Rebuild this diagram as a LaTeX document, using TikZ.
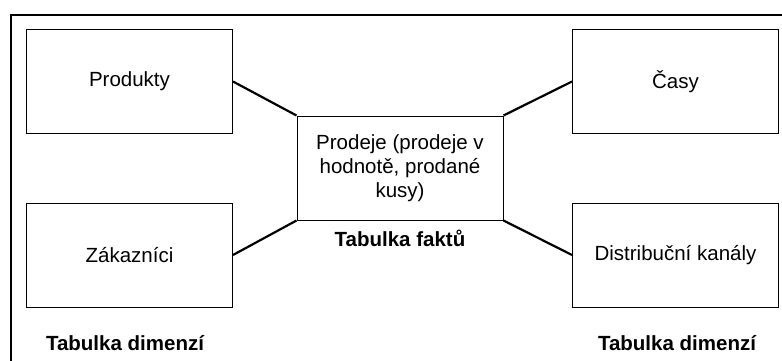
\documentclass[tikz,border=0pt]{standalone}
\usepackage{fontspec}
\setmainfont{Liberation Sans}
\usetikzlibrary{positioning}

\begin{document}
\begin{tikzpicture}[x=1pt,y=-1pt,
        font=\fontsize{20.5}{24}\selectfont,
        box/.style = {draw,line width=1pt,inner sep=0pt,align=center,
            minimum width=206pt,minimum height=104pt},
        link/.style = {line width=2.2pt},
        caption/.style = {font=\fontsize{20.5}{24}\selectfont\bfseries}]
    \useasboundingbox (0,0) rectangle (782,360);
    % outer frame, open at right and bottom
    \draw[line width=2pt] (11,362) -- (11,15) -- (784,15);
    % dimension tables
    \node[box] (prod) at (129.5,81.5) {Produkty};
    \node[box] (zak) at (129.5,255) {Zákazníci};
    \node[box] (casy) at (675.5,81.5) {Časy};
    \node[box] (dist) at (675.5,255) {Distribuční kanály};
    % fact table
    \node[box] (fakt) at (400,168) {Prodeje (prodeje v\\hodnotě, prodané\\kusy)};
    \path[link]
        (prod.east) edge (fakt.north west)
        (zak.east) edge (fakt.south west)
        (casy.west) edge (fakt.north east)
        (dist.west) edge (fakt.south east);
    \node[caption] (lfakt) at (400,238) {Tabulka faktů};
    \node[caption] (ldim1) at (125,343) {Tabulka dimenzí};
    \node[caption] (ldim2) at (677,343) {Tabulka dimenzí};
\end{tikzpicture}
\end{document}
